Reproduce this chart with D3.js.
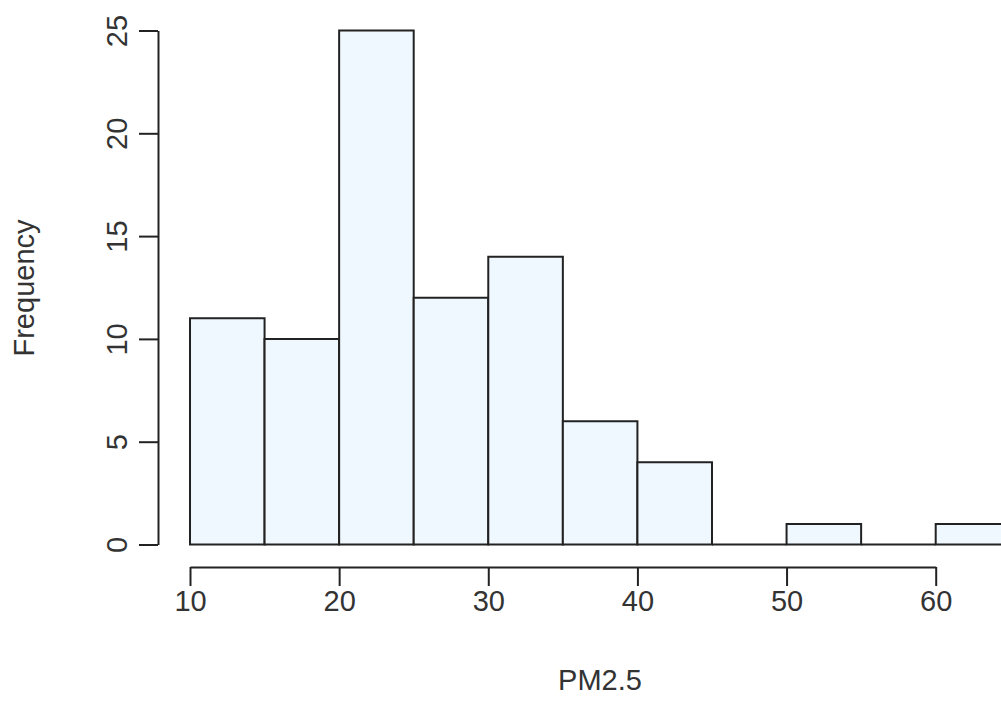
<!DOCTYPE html>
<html>
<head>
<meta charset="utf-8">
<script src="https://cdn.jsdelivr.net/npm/d3@7"></script>
<style>
  body { margin: 0; background: #fff; }
  svg { display: block; }
  text { font-family: "Liberation Sans", Arial, sans-serif; fill: #333; }
</style>
</head>
<body>
<svg id="canvas" width="1001" height="718"></svg>
<script>
// histogram of PM2.5, bins of width 5
const binStarts = [10, 15, 20, 25, 30, 35, 40, 45, 50, 55, 60];
const binWidth = 5;
const counts = [11, 10, 25, 12, 14, 6, 4, 0, 1, 0, 1];
const xTicks = [10, 20, 30, 40, 50, 60];
const yTicks = [0, 5, 10, 15, 20, 25];

const width = 1001;
const height = 718;
const fontSize = 29;

const svg = d3.select("#canvas");

const x = d3.scaleLinear().domain([10, 60]).range([190, 935.7]);
const y = d3.scaleLinear().domain([0, 25]).range([544.5, 30.5]);

const axisY = 567;   // x axis sits a bit below the zero line
const axisX = 158;

// bars drawn as closed paths so empty bins still leave a line on the base
svg.selectAll("path.bar")
  .data(binStarts)
  .enter()
  .append("path")
  .attr("class", "bar")
  .attr("d", (d, i) => {
    let x0 = x(d), x1 = x(d + binWidth);
    let y0 = y(0), y1 = y(counts[i]);
    return `M${x0},${y0}L${x0},${y1}L${x1},${y1}L${x1},${y0}Z`;
  })
  .attr("fill", "#F0F8FF")
  .attr("stroke", "#222")
  .attr("stroke-width", 2);

// x axis
const gx = svg.append("g")
  .attr("transform", `translate(0,${axisY})`)
  .call(d3.axisBottom(x).tickValues(xTicks).tickSizeOuter(0).tickSizeInner(19));

gx.select(".domain").attr("stroke", "#222").attr("stroke-width", 2);
gx.selectAll(".tick line").attr("stroke", "#222").attr("stroke-width", 2);
gx.selectAll(".tick text")
  .attr("y", 611 - axisY)
  .attr("dy", null)
  .attr("fill", "#333")
  .style("font-size", fontSize + "px")
  .style("font-family", "Liberation Sans, Arial, sans-serif");

// y axis
const gy = svg.append("g")
  .attr("transform", `translate(${axisX},0)`)
  .call(d3.axisLeft(y).tickValues(yTicks).tickSizeOuter(0).tickSizeInner(19));

gy.select(".domain").attr("stroke", "#222").attr("stroke-width", 2);
gy.selectAll(".tick line").attr("stroke", "#222").attr("stroke-width", 2);
gy.selectAll(".tick text")
  .attr("transform", "rotate(-90)")
  .attr("x", 0)
  .attr("y", -31)
  .attr("dy", null)
  .attr("text-anchor", "middle")
  .attr("fill", "#333")
  .style("font-size", fontSize + "px")
  .style("font-family", "Liberation Sans, Arial, sans-serif");

// axis titles
svg.append("text")
  .attr("x", 600)
  .attr("y", 690)
  .attr("text-anchor", "middle")
  .style("font-size", fontSize + "px")
  .text("PM2.5");

svg.append("text")
  .attr("transform", "translate(34,288) rotate(-90)")
  .attr("text-anchor", "middle")
  .style("font-size", fontSize + "px")
  .text("Frequency");
</script>
</body>
</html>
